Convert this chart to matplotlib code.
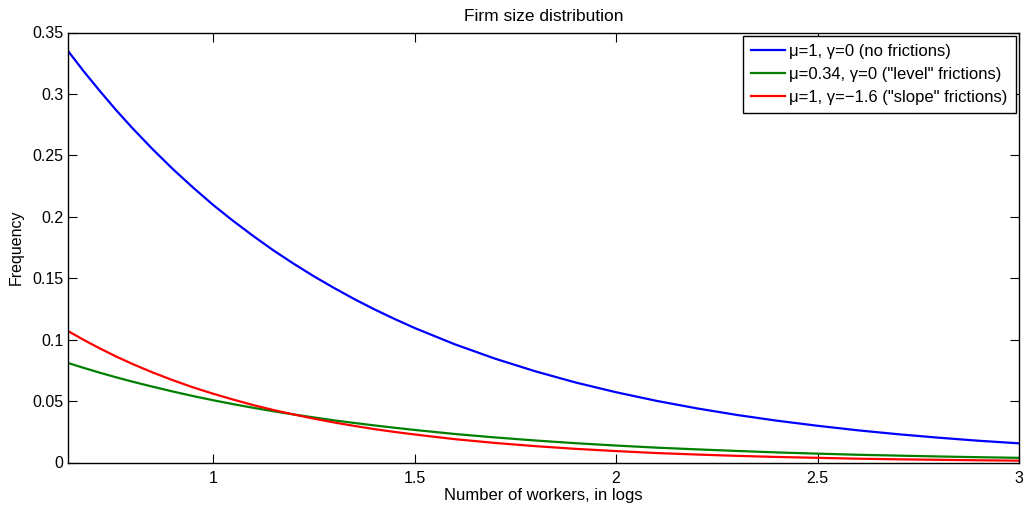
import matplotlib
matplotlib.use("Agg")
import matplotlib.pyplot as plt

x_vals = [0.64, 0.68, 0.72, 0.76, 0.8, 0.85, 0.9, 0.95, 1.0, 1.05, 1.1, 1.15, 1.2, 1.25,
          1.3, 1.35, 1.4, 1.45, 1.5, 1.6, 1.7, 1.8, 1.9,
          2.0, 2.1, 2.2, 2.3, 2.4, 2.5, 2.6, 2.7, 2.8, 2.9, 3.0]
no_frictions = [0.335, 0.318, 0.302, 0.2866, 0.2721, 0.2550, 0.2389, 0.2239, 0.2097, 0.1966,
                0.1843, 0.1726, 0.1618, 0.1516, 0.1421, 0.1331, 0.1247, 0.1169, 0.1095,
                0.0962, 0.0845, 0.0742, 0.0651, 0.0572, 0.0502, 0.0441, 0.0387, 0.0340,
                0.0299, 0.0262, 0.0230, 0.0202, 0.0177, 0.0156]
level_frictions = [0.0810, 0.0769, 0.0730, 0.0693, 0.0658, 0.0617, 0.0578, 0.0541, 0.0507,
                   0.0475, 0.0445, 0.0417, 0.0391, 0.0367, 0.0343, 0.0322, 0.0302, 0.0283,
                   0.0265, 0.0232, 0.0204, 0.0179, 0.0157, 0.0138, 0.0121, 0.0107, 0.0094,
                   0.0082, 0.0072, 0.0063, 0.0056, 0.0049, 0.0043, 0.0038]
slope_frictions = [0.1070, 0.0996, 0.0927, 0.0862, 0.0802, 0.0733, 0.0670, 0.0612, 0.0560,
                   0.0512, 0.0467, 0.0427, 0.0391, 0.0357, 0.0326, 0.0298, 0.0272, 0.0249,
                   0.0228, 0.0190, 0.0159, 0.0133, 0.0111, 0.0093, 0.0077, 0.0065, 0.0054,
                   0.0045, 0.0038, 0.0031, 0.0026, 0.0022, 0.0018, 0.0015]

labels = ["\u03bc=1, \u03b3=0 (no frictions)",
          "\u03bc=0.34, \u03b3=0 (\"level\" frictions)",
          "\u03bc=1, \u03b3=\u22121.6 (\"slope\" frictions)"]
colors = ["#0000ff", "#008000", "#ff0000"]

x_ticks = [1, 1.5, 2, 2.5, 3]
x_tick_labels = ["1", "1.5", "2", "2.5", "3"]
y_ticks = [0, 0.05, 0.1, 0.15, 0.2, 0.25, 0.3, 0.35]
y_tick_labels = ["0", "0.05", "0.1", "0.15", "0.2", "0.25", "0.3", "0.35"]

plt.rcParams['font.family'] = ['Liberation Sans', 'DejaVu Sans']
plt.rcParams['font.size'] = 11.5

fig = plt.figure(figsize=(10.25, 5.08), dpi=100)
ax = fig.add_axes([68/1025, 1 - 462.5/508, (1019 - 68)/1025, (462.5 - 32.5)/508])

for ys, lab, c in zip([no_frictions, level_frictions, slope_frictions], labels, colors):
    ax.plot(x_vals, ys, color=c, lw=1.6, label=lab)

ax.set_xlim(x_vals[0], x_vals[-1])
ax.set_ylim(0, 0.35)
ax.set_xticks(x_ticks)
ax.set_xticklabels(x_tick_labels)
ax.set_yticks(y_ticks)
ax.set_yticklabels(y_tick_labels)
ax.tick_params(axis='both', direction='in', length=6.5, width=0.8, top=True, right=True,
               labelsize=11.5, color='black')
ax.tick_params(axis='x', pad=6)
ax.tick_params(axis='y', pad=3.5)
for sp in ax.spines.values():
    sp.set_linewidth(1.0)

ax.set_title("Firm size distribution", fontsize=12.5, pad=8)
ax.set_xlabel("Number of workers, in logs", fontsize=12, labelpad=1.5)
ax.set_ylabel("Frequency", fontsize=11.5, labelpad=6)

leg = ax.legend(loc='upper right', fontsize=12, fancybox=False, framealpha=1,
                edgecolor='black', borderaxespad=0.2, handlelength=2.0,
                handletextpad=0.25, labelspacing=0.47, borderpad=0.5)
leg.get_frame().set_linewidth(1.0)

fig.savefig("out.png", dpi=100)
